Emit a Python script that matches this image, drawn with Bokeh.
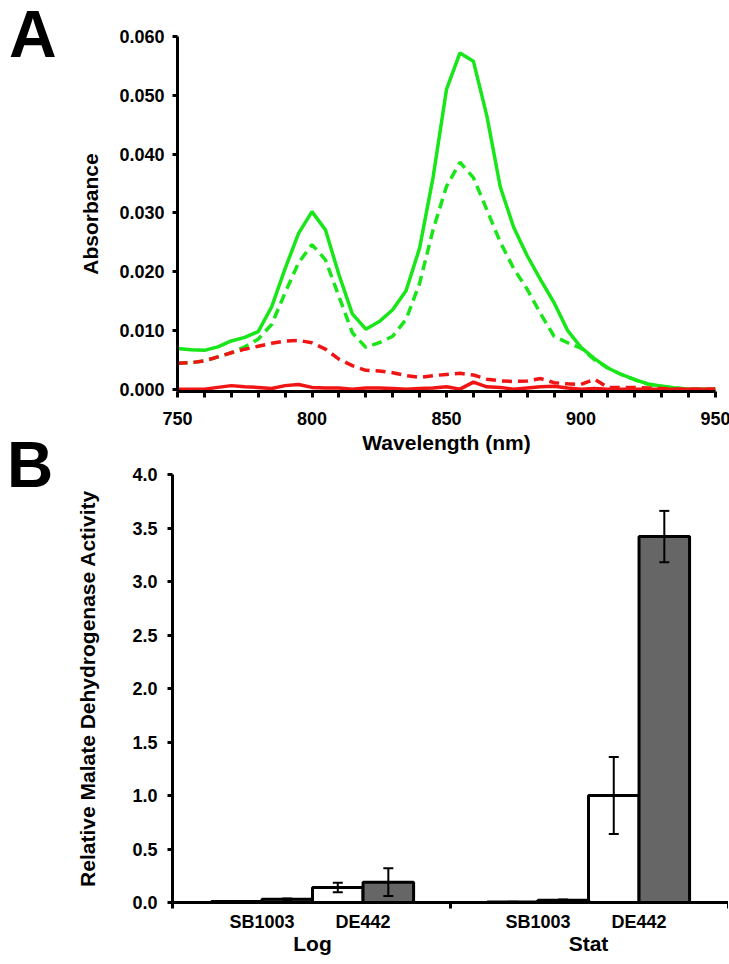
from bokeh.plotting import figure
from bokeh.models import (Range1d, FactorRange, FixedTicker, NumeralTickFormatter, LinearAxis,
                          CategoricalAxis, Whisker, TeeHead, ColumnDataSource,
                          CustomJSTickFormatter, Div)
from bokeh.transform import dodge
from bokeh.layouts import column, row
from bokeh.embed import file_html
from bokeh.resources import INLINE

# ---------------- Panel A data ----------------
wavelength = list(range(750, 951, 5))
green_solid = [0.0069, 0.0067, 0.0066, 0.0072, 0.0082, 0.0088, 0.0098, 0.0140, 0.0205, 0.0265,
               0.0302, 0.0271, 0.0195, 0.0128, 0.0102, 0.0115, 0.0135, 0.0168, 0.0240, 0.0360,
               0.0510, 0.0572, 0.0558, 0.0465, 0.0344, 0.0275, 0.0227, 0.0186, 0.0147, 0.0100,
               0.0071, 0.0052, 0.0036, 0.0025, 0.0016, 0.0009, 0.0005, 0.0002, 0.0, 0.0, 0.0]
green_dash = [0.0044, 0.0045, 0.0048, 0.0055, 0.0062, 0.0072, 0.0085, 0.0110, 0.0164, 0.0215,
              0.0246, 0.0220, 0.0158, 0.0096, 0.0071, 0.0079, 0.0090, 0.0119, 0.0180, 0.0271,
              0.0345, 0.0386, 0.0360, 0.0305, 0.0250, 0.0205, 0.0170, 0.0128, 0.0090, 0.0079,
              0.0070, 0.0050, 0.0036, 0.0025, 0.0016, 0.0008, 0.0005, 0.0002, 0.0, 0.0, 0.0]
red_dash = [0.0044, 0.0045, 0.0048, 0.0055, 0.0062, 0.0068, 0.0073, 0.0078, 0.0082, 0.0083,
            0.0079, 0.0068, 0.0051, 0.0040, 0.0032, 0.0031, 0.0028, 0.0023, 0.0020, 0.0023,
            0.0025, 0.0027, 0.0024, 0.0017, 0.0014, 0.0013, 0.0014, 0.0018, 0.0011, 0.0009,
            0.0008, 0.0017, 0.0003, 0.0003, 0.0003, 0.0002, 0.0001, 0.0, 0.0, 0.0, 0.0]
red_solid = [0.0, 0.0, 0.0, 0.0003, 0.0006, 0.0004, 0.0003, 0.0001, 0.0006, 0.0008,
             0.0003, 0.0002, 0.0002, 0.0, 0.0002, 0.0002, 0.0001, 0.0, 0.0001, 0.0002,
             0.0004, 0.0, 0.0012, 0.0004, 0.0003, 0.0, 0.0002, 0.0004, 0.0005, 0.0002,
             0.0, 0.0001, 0.0, 0.0, 0.0, 0.0, 0.0, 0.0, 0.0, 0.0, 0.0]
abs_ticks = [0.0, 0.01, 0.02, 0.03, 0.04, 0.05, 0.06]
wl_ticks = [750, 800, 850, 900, 950]
wl_minor = [760, 770, 780, 790, 810, 820, 830, 840, 860, 870, 880, 890, 910, 920, 930, 940]

# ---------------- Panel B data ----------------
groups = ["Log", "Stat"]
strains = ["SB1003", "DE442"]
white_vals = [0.01, 0.14, 0.005, 1.00]
white_err = [0.004, 0.045, 0.003, 0.36]
gray_vals = [0.03, 0.19, 0.02, 3.42]
gray_err = [0.008, 0.13, 0.008, 0.24]
mdh_ticks = [0.0, 0.5, 1.0, 1.5, 2.0, 2.5, 3.0, 3.5, 4.0]

panel_letters = ["A", "B"]

FONT = "Liberation Sans"
GREEN = "#19e619"
RED = "#f01414"
LETTER_W = 60
LETTER_H = 70


def style_axis(ax, label_size="18px"):
    ax.axis_line_width = 3
    ax.axis_line_color = "black"
    ax.major_tick_line_width = 3
    ax.major_tick_line_color = "black"
    ax.major_tick_in = 0
    ax.major_tick_out = 5
    ax.major_label_text_font = FONT
    ax.major_label_text_font_style = "bold"
    ax.major_label_text_font_size = label_size
    ax.major_label_text_color = "black"
    ax.axis_label_text_font = FONT
    ax.axis_label_text_font_style = "bold"
    ax.axis_label_text_font_size = "21px"
    ax.axis_label_text_color = "black"


def letter_div(letter, size, line_height, indent):
    html = ('<div style="font-family:\'%s\';font-weight:bold;font-size:%dpx;'
            'line-height:%s;margin:0;padding:0;padding-left:%dpx;color:black;">%s</div>'
            % (FONT, size, line_height, indent, letter))
    return Div(text=html, width=LETTER_W, height=LETTER_H)


# ---------------- Panel A ----------------
p1 = figure(frame_width=538, frame_height=355, output_backend="svg", toolbar_location=None,
            x_range=Range1d(750, 950), y_range=Range1d(-0.0004, 0.060),
            min_border_left=167 - LETTER_W, min_border_right=15, min_border_top=36,
            min_border_bottom=69)
p1.outline_line_color = None
p1.border_fill_color = None
p1.xgrid.visible = False
p1.ygrid.visible = False

src1 = ColumnDataSource(dict(x=wavelength, gs=green_solid, gd=green_dash, rd=red_dash, rs=red_solid))
p1.line("x", "gs", source=src1, line_color=GREEN, line_width=3.5)
p1.line("x", "gd", source=src1, line_color=GREEN, line_width=3.5, line_dash="10 6")
p1.line("x", "rd", source=src1, line_color=RED, line_width=3.5, line_dash="10 6")
p1.line("x", "rs", source=src1, line_color=RED, line_width=3.5)

xa = p1.xaxis[0]
style_axis(xa)
xa.ticker = FixedTicker(ticks=wl_ticks, minor_ticks=wl_minor)
xa.formatter = NumeralTickFormatter(format="0")
xa.major_tick_out = 6
xa.minor_tick_out = 6
xa.minor_tick_in = 0
xa.minor_tick_line_width = 3
xa.minor_tick_line_color = "black"
xa.major_label_standoff = 14
xa.axis_label = "Wavelength (nm)"
xa.axis_label_standoff = 3

ya = p1.yaxis[0]
style_axis(ya)
ya.ticker = FixedTicker(ticks=abs_ticks)
ya.formatter = NumeralTickFormatter(format="0.000")
ya.minor_tick_line_color = None
ya.major_label_standoff = 8
ya.axis_label = "Absorbance"
ya.axis_label_standoff = 14

divA = letter_div(panel_letters[0], 66, "0.9", 4)

# ---------------- Panel B ----------------
factors = [(g, s) for g in groups for s in strains]
GROUP_PAD = 0.73
RANGE_PAD = 0.385
xr = FactorRange(*factors, group_padding=GROUP_PAD, factor_padding=0,
                 range_padding=RANGE_PAD, range_padding_units="absolute")
# group boundaries in the range's synthetic coordinates (left edge, between groups, right edge)
n = len(strains)
edges = [-RANGE_PAD, n + GROUP_PAD / 2, 2 * n + GROUP_PAD + RANGE_PAD]

p2 = figure(frame_width=556, frame_height=428, output_backend="svg", toolbar_location=None,
            x_range=xr, y_range=Range1d(0, 4.0), x_axis_location=None,
            min_border_left=162 - LETTER_W, min_border_right=0, min_border_top=39,
            min_border_bottom=56)
p2.border_fill_color = None
p2.background_fill_color = None
p2.outline_line_color = None
p2.xgrid.visible = False
p2.ygrid.visible = False

src2 = ColumnDataSource(dict(
    x=factors,
    white=white_vals, gray=gray_vals,
    w_up=[v + e for v, e in zip(white_vals, white_err)],
    w_lo=[v - e for v, e in zip(white_vals, white_err)],
    g_up=[v + e for v, e in zip(gray_vals, gray_err)],
    g_lo=[v - e for v, e in zip(gray_vals, gray_err)],
))
p2.vbar(x=dodge("x", -0.25, range=xr), top="white", bottom=0, width=0.5, source=src2,
        fill_color="white", line_color="black", line_width=3)
p2.vbar(x=dodge("x", 0.25, range=xr), top="gray", bottom=0, width=0.5, source=src2,
        fill_color="#666666", line_color="black", line_width=3)
for off, up, lo in ((-0.25, "w_up", "w_lo"), (0.25, "g_up", "g_lo")):
    p2.add_layout(Whisker(source=src2, base=dodge("x", off, range=xr), upper=up, lower=lo,
                          line_width=2, line_color="black", level="overlay",
                          upper_head=TeeHead(size=10, line_width=2, line_color="black"),
                          lower_head=TeeHead(size=10, line_width=2, line_color="black")))

tick_axis = LinearAxis(ticker=FixedTicker(ticks=edges),
                       formatter=CustomJSTickFormatter(code="return ''"))
style_axis(tick_axis)
tick_axis.major_tick_out = 6
tick_axis.minor_tick_line_color = None
tick_axis.major_label_text_font_size = "1px"
tick_axis.major_label_standoff = 0
p2.add_layout(tick_axis, "below")

cat_axis = CategoricalAxis()
cat_axis.axis_line_color = None
cat_axis.major_tick_line_color = None
cat_axis.minor_tick_line_color = None
cat_axis.separator_line_color = None
cat_axis.major_label_text_font = FONT
cat_axis.major_label_text_font_style = "bold"
cat_axis.major_label_text_font_size = "18px"
cat_axis.major_label_text_color = "black"
cat_axis.major_label_standoff = -3
cat_axis.group_text_font = FONT
cat_axis.group_text_font_style = "bold"
cat_axis.group_text_font_size = "21px"
cat_axis.group_text_color = "black"
p2.add_layout(cat_axis, "below")

yb = p2.yaxis[0]
style_axis(yb)
yb.ticker = FixedTicker(ticks=mdh_ticks)
yb.formatter = NumeralTickFormatter(format="0.0")
yb.minor_tick_line_color = None
yb.major_label_standoff = 10
yb.axis_label = "Relative Malate Dehydrogenase Activity"
yb.axis_label_standoff = 30

divB = letter_div(panel_letters[1], 64, "0.8", 2)

row1 = row(divA, p1)
row2 = row(divB, p2, margin=(-25, 0, 0, 0))
layout = column(row1, row2)
open("out.html", "w").write(file_html(layout, INLINE))
